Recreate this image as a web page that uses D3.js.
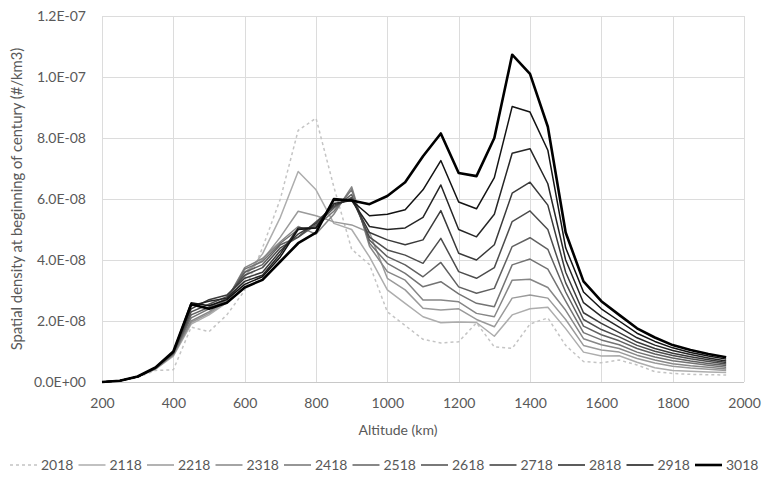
<!DOCTYPE html>
<html>
<head>
<meta charset="utf-8">
<script src="https://cdn.jsdelivr.net/npm/d3@7"></script>
<style>
  html, body { margin: 0; padding: 0; background: #fff; }
  svg { display: block; }
  text { font-family: Lato, "Open Sans", sans-serif; fill: #595959; }
</style>
</head>
<body>
<svg id="chart" width="763" height="487"></svg>
<script>
// ---------------- DATA (values in units of 1E-08 #/km3) ----------------
const UNIT = 1e-8;
const altitudes = [200,250,300,350,400,450,500,550,600,650,700,750,800,850,900,950,1000,1050,1100,1150,1200,1250,1300,1350,1400,1450,1500,1550,1600,1650,1700,1750,1800,1850,1900,1950];
const seriesNames = ["2018","2118","2218","2318","2418","2518","2618","2718","2818","2918","3018"];
const s2018 = [0,0.03,0.15,0.38,0.4,1.8,1.65,2.2,3.0,4.4,6.0,8.25,8.65,6.4,4.35,3.85,2.3,1.85,1.4,1.28,1.32,1.94,1.15,1.1,1.9,2.1,1.2,0.67,0.63,0.72,0.56,0.34,0.28,0.25,0.24,0.23];
const s2118 = [0,0.04,0.16,0.42,0.85,1.9,2.2,2.6,3.45,4.2,5.4,6.9,6.3,5.2,5.0,4.1,3.02,2.58,2.14,1.94,1.97,1.95,1.5,2.2,2.4,2.45,1.75,0.98,0.85,0.86,0.65,0.47,0.38,0.35,0.33,0.31];
const s2218 = [0,0.04,0.17,0.43,0.88,1.95,2.25,2.65,3.6,4.0,4.75,5.6,5.45,5.25,5.15,4.9,3.4,3.02,2.42,2.36,2.4,2.05,1.81,2.75,2.85,2.75,2.05,1.2,1.05,0.98,0.77,0.62,0.52,0.46,0.42,0.38];
const s2318 = [0,0.04,0.17,0.44,0.9,2.0,2.3,2.7,3.75,4.05,4.6,5.1,4.85,5.5,6.4,4.45,3.62,3.34,2.69,2.69,2.63,2.25,2.14,3.34,3.37,3.1,2.35,1.42,1.22,1.1,0.88,0.72,0.6,0.53,0.48,0.43];
const s2418 = [0,0.04,0.17,0.44,0.92,2.1,2.4,2.7,3.7,3.95,4.55,5.0,5.1,5.6,6.3,4.55,3.89,3.56,3.12,3.29,2.89,2.58,2.47,3.84,4.03,3.7,2.65,1.62,1.38,1.22,0.98,0.82,0.7,0.62,0.55,0.48];
const s2518 = [0,0.04,0.17,0.45,0.94,2.2,2.45,2.75,3.6,3.85,4.5,4.75,5.15,5.7,6.15,4.65,4.11,3.84,3.45,3.92,3.12,2.91,3.07,4.44,4.73,4.35,2.95,1.83,1.55,1.35,1.1,0.92,0.79,0.69,0.61,0.54];
const s2618 = [0,0.04,0.17,0.45,0.95,2.3,2.55,2.8,3.5,3.75,4.4,4.75,5.25,5.75,6.05,4.75,4.33,4.16,3.89,4.71,3.62,3.4,3.75,5.26,5.61,5.0,3.25,2.05,1.72,1.48,1.2,1.01,0.87,0.76,0.67,0.59];
const s2718 = [0,0.04,0.17,0.46,0.96,2.4,2.7,2.85,3.4,3.6,4.3,4.85,5.2,5.8,6.0,4.9,4.66,4.5,4.66,5.62,4.22,4.0,4.5,6.19,6.55,5.8,3.6,2.27,1.92,1.62,1.31,1.1,0.94,0.83,0.73,0.64];
const s2818 = [0,0.04,0.18,0.46,0.97,2.5,2.65,2.75,3.3,3.5,4.2,5.05,5.05,5.85,5.95,5.1,5.0,5.05,5.4,6.46,5.0,4.76,5.5,7.5,7.65,6.5,4.0,2.6,2.15,1.8,1.45,1.21,1.03,0.9,0.79,0.69];
const s2918 = [0,0.04,0.18,0.47,0.98,2.6,2.5,2.7,3.2,3.45,4.1,5.0,5.05,5.95,5.95,5.45,5.5,5.65,6.3,7.26,5.9,5.68,6.7,9.03,8.85,7.6,4.4,2.95,2.4,2.0,1.6,1.33,1.12,0.97,0.85,0.75];
const s3018 = [0,0.04,0.18,0.48,1.0,2.55,2.4,2.6,3.1,3.35,3.95,4.55,4.9,6.0,5.95,5.83,6.1,6.55,7.4,8.15,6.85,6.75,8.0,10.73,10.1,8.37,4.9,3.3,2.65,2.2,1.76,1.46,1.21,1.05,0.92,0.81];
const seriesValues = [s2018,s2118,s2218,s2318,s2418,s2518,s2618,s2718,s2818,s2918,s3018];
const xTicks = [200,400,600,800,1000,1200,1400,1600,1800,2000];
const yTicks = [0,2e-8,4e-8,6e-8,8e-8,1e-7,1.2e-7];
const xTitle = "Altitude (km)";
const yTitle = "Spatial density at beginning of century (#/km3)";

// ---------------- CHART ----------------
const svg = d3.select("#chart");
const L = 102, R = 744, T = 16, B = 382;
const x = d3.scaleLinear().domain([200, 2000]).range([L, R]);
const y = d3.scaleLinear().domain([0, 1.2e-7]).range([B, T]);

const fmtY = v => {
  const [m, e] = v.toExponential(1).split("e");
  const sign = e[0];
  const digits = e.slice(1).padStart(2, "0");
  return m + "E" + sign + digits;
};

// gridlines
const grid = svg.append("g");
grid.selectAll("line.h").data(yTicks).join("line")
  .attr("x1", L).attr("x2", R)
  .attr("y1", d => Math.round(y(d)) + 0.5).attr("y2", d => Math.round(y(d)) + 0.5)
  .attr("stroke", d => d === 0 ? "#c8c8c8" : "#dcdcdc").attr("stroke-width", 1);
grid.selectAll("line.v").data(xTicks).join("line")
  .attr("y1", T).attr("y2", B)
  .attr("x1", d => Math.round(x(d)) + 0.5).attr("x2", d => Math.round(x(d)) + 0.5)
  .attr("stroke", "#dcdcdc").attr("stroke-width", 1);

// axes (labels only)
const xAxis = svg.append("g").attr("transform", `translate(0,${B})`)
  .call(d3.axisBottom(x).tickValues(xTicks).tickSize(0).tickPadding(16).tickFormat(d3.format("d")));
xAxis.select(".domain").remove();
xAxis.selectAll("text").style("font-size", "14px").style("font-family", "Lato, sans-serif").attr("fill", "#595959");

const yAxis = svg.append("g").attr("transform", `translate(${L},0)`)
  .call(d3.axisLeft(y).tickValues(yTicks).tickSize(0).tickPadding(16).tickFormat(fmtY));
yAxis.select(".domain").remove();
yAxis.selectAll("text").style("font-size", "14px").style("font-family", "Lato, sans-serif").attr("fill", "#595959");

// titles
svg.append("text").attr("x", (L + R) / 2 - 25).attr("y", 435)
  .attr("text-anchor", "middle").style("font-size", "14px").text(xTitle);
svg.append("text").attr("transform", `translate(22,${(T + B) / 2}) rotate(-90)`)
  .attr("text-anchor", "middle").style("font-size", "14.8px").text(yTitle);

// series
const color = i => i === 0 ? "#c4c4c4" : d3.interpolateRgb("#c0c0c0", "#000000")(i / 10);
const line = d3.line().x((d, i) => x(altitudes[i])).y(d => y(d * UNIT));
const plot = svg.append("g");
seriesValues.forEach((vals, i) => {
  plot.append("path").datum(vals)
    .attr("d", line)
    .attr("fill", "none")
    .attr("stroke", color(i))
    .attr("stroke-width", i === 10 ? 2.6 : 1.5)
    .attr("stroke-linejoin", "round")
    .attr("stroke-dasharray", i === 0 ? "3,3" : null);
});

// legend
const lg = svg.append("g").attr("transform", "translate(0,465)");
const step = 68.5;
seriesNames.forEach((name, i) => {
  const x0 = 10 + i * step;
  lg.append("line").attr("x1", x0).attr("x2", x0 + 27).attr("y1", 0).attr("y2", 0)
    .attr("stroke", color(i)).attr("stroke-width", i === 10 ? 2.6 : 1.5)
    .attr("stroke-dasharray", i === 0 ? "3,3" : null);
  lg.append("text").attr("x", x0 + 31).attr("y", 5).style("font-size", "14px").text(name);
});
</script>
</body>
</html>
